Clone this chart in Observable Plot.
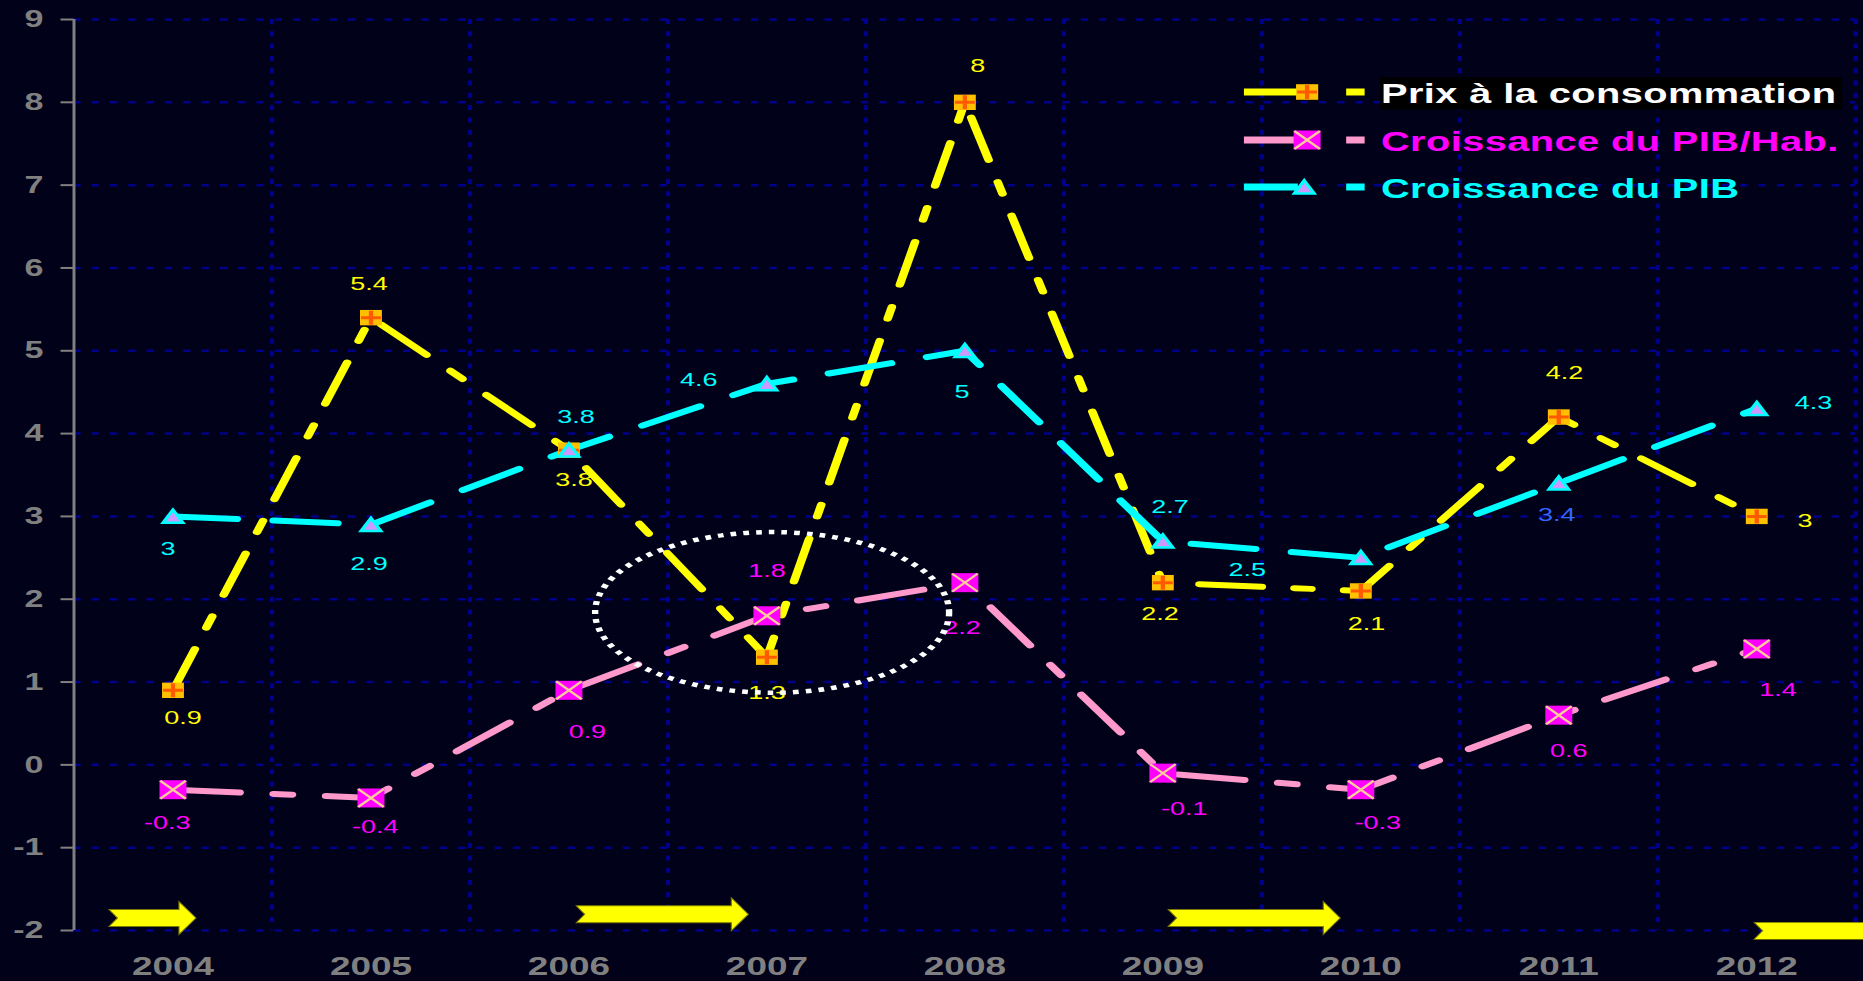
<!DOCTYPE html>
<html>
<head>
<meta charset="utf-8">
<script src="https://cdn.jsdelivr.net/npm/d3@7"></script>
<script src="https://cdn.jsdelivr.net/npm/@observablehq/plot@0.6"></script>
<style>
  html, body { margin: 0; padding: 0; background: #01011a; overflow: hidden; width: 1863px; height: 981px; }
  #chart svg { display: block; }
</style>
</head>
<body>
<div id="chart"></div>
<script>
// ---------- DATA ----------
const years = [2004, 2005, 2006, 2007, 2008, 2009, 2010, 2011, 2012];
const prixConso = [0.9, 5.4, 3.8, 1.3, 8, 2.2, 2.1, 4.2, 3];
const pibHab = [-0.3, -0.4, 0.9, 1.8, 2.2, -0.1, -0.3, 0.6, 1.4];
const pibGrowth = [3, 2.9, 3.8, 4.6, 5, 2.7, 2.5, 3.4, 4.3];
const seriesNames = ["Prix à la consommation", "Croissance du PIB/Hab.", "Croissance du PIB"];
const yTicks = [-2, -1, 0, 1, 2, 3, 4, 5, 6, 7, 8, 9];
const yearEdges = [2004.5, 2005.5, 2006.5, 2007.5, 2008.5, 2009.5, 2010.5, 2011.5, 2012.5];
const xDomain = [2003.5, 2012.5];
const yDomain = [-2, 9];

// annotations (in data units)
const arrows = [
  {from: 2003.68, to: 2004.12, y: -1.855},
  {from: 2006.04, to: 2006.91, y: -1.81},
  {from: 2009.03, to: 2009.90, y: -1.855},
  {from: 2011.99, to: 2012.95, y: -2.01}
];
const highlight = {year: 2007.03, value: 1.835, dYear: 0.894, dValue: 0.97};

// ---------- STYLE / PLACEMENT ----------
const STRETCH = 1.42;               // the picture is stretched horizontally
const FULL_W = 1863, FULL_H = 981;
const W = FULL_W / STRETCH;
const FONT = "'Liberation Sans', Arial, Helvetica, sans-serif";

const labelOffsets = {
  prix:  [[7, 28], [-1.4, -34], [3.5, 30], [0, 36], [9, -36], [-2, 31], [4, 33], [4, -44], [34, 5]],
  hab:   [[-4, 33], [3, 29], [13, 42], [0, -45], [-2, 45], [15, 36], [12, 33], [7, 36], [15, 41]],
  pib:   [[-3.5, 33], [-1.4, 39], [5, -33], [-48, -4], [-2, 41], [5, -34], [-80, 12], [-1.4, 32], [40, -6]]
};

// custom marker symbols
const rectSym = {draw(ctx, size) { const r = Math.sqrt(size / Math.PI); ctx.moveTo(-r, -r); ctx.lineTo(r, -r); ctx.lineTo(r, r); ctx.lineTo(-r, r); ctx.closePath(); }};
const plusSym = {draw(ctx, size) { const r = Math.sqrt(size / Math.PI); ctx.moveTo(-r, 0); ctx.lineTo(r, 0); ctx.moveTo(0, -r); ctx.lineTo(0, r); }};
const xSym = {draw(ctx, size) { const r = Math.sqrt(size / Math.PI); ctx.moveTo(-r, -r); ctx.lineTo(r, r); ctx.moveTo(r, -r); ctx.lineTo(-r, r); }};
const triSym = {draw(ctx, size) { const r = Math.sqrt(size / Math.PI); ctx.moveTo(0, -0.95 * r); ctx.lineTo(r, 0.9 * r); ctx.lineTo(-r, 0.9 * r); ctx.closePath(); }};

const toRows = (vals) => years.map((year, i) => ({year, value: vals[i]}));
const series = [
  {key: "prix", data: toRows(prixConso), line: "#FFFF00", dash: "44,23,12,23", label: "#FFFF00"},
  {key: "hab",  data: toRows(pibHab),    line: "#FF99CC", dash: "47,24,13,24", label: "#FF00FF"},
  {key: "pib",  data: toRows(pibGrowth), line: "#00FFFF", dash: "45,26",       label: "#00FFFF"}
];

// ---------- custom render marks ----------
function highlightMark(index, scales) {
  const cx = scales.x(highlight.year), cy = scales.y(highlight.value);
  const rx = scales.x(highlight.year + highlight.dYear) - cx;
  const ry = cy - scales.y(highlight.value + highlight.dValue);
  return d3.create("svg:ellipse")
    .attr("cx", cx).attr("cy", cy).attr("rx", rx).attr("ry", ry)
    .attr("fill", "none").attr("stroke", "#FFFFFF").attr("stroke-width", 4.5)
    .attr("stroke-dasharray", "4,5").node();
}

function arrowsMark(index, scales) {
  const g = d3.create("svg:g");
  const bh = 8.5, hh = 16.5, hl = 12, notch = 6;
  for (const a of arrows) {
    const x0 = scales.x(a.from), x1 = scales.x(a.to), yc = scales.y(a.y);
    const xh = x1 - hl;
    const d = `M${x0},${yc - bh}L${xh},${yc - bh}L${xh},${yc - hh}L${x1},${yc}L${xh},${yc + hh}L${xh},${yc + bh}L${x0},${yc + bh}L${x0 + notch},${yc}Z`;
    g.append("path").attr("d", d).attr("fill", "#FFFF00").attr("stroke", "#7a7a00").attr("stroke-width", 0.8);
  }
  return g.node();
}

function legendMark() {
  const g = d3.create("svg:g");
  const rowY = [92, 140, 187];
  const colors = ["#FFFF00", "#FF99CC", "#00FFFF"];
  const textColors = ["#FFFFFF", "#FF00FF", "#00FFFF"];
  const mx = 920.5;
  // black box behind first entry
  g.append("rect").attr("x", 971.8).attr("y", 77).attr("width", 325.5).attr("height", 32.5).attr("fill", "#000000");
  rowY.forEach((cy, i) => {
    g.append("line").attr("x1", 876).attr("x2", 914).attr("y1", cy).attr("y2", cy)
      .attr("stroke", colors[i]).attr("stroke-width", 7);
    g.append("line").attr("x1", 948).attr("x2", 961).attr("y1", cy).attr("y2", cy)
      .attr("stroke", colors[i]).attr("stroke-width", 7);
    if (i === 0) {
      g.append("rect").attr("x", mx - 7.8).attr("y", cy - 7.8).attr("width", 15.6).attr("height", 15.6).attr("fill", "#FFC000");
      g.append("path").attr("d", `M${mx - 7},${cy}H${mx + 7}M${mx},${cy - 7}V${cy + 7}`).attr("stroke", "#FF5A00").attr("stroke-width", 3);
    } else if (i === 1) {
      g.append("rect").attr("x", mx - 9.5).attr("y", cy - 9.5).attr("width", 19).attr("height", 19).attr("fill", "#FF00FF");
      g.append("path").attr("d", `M${mx - 9},${cy - 9}L${mx + 9},${cy + 9}M${mx + 9},${cy - 9}L${mx - 9},${cy + 9}`).attr("stroke", "#FFCC99").attr("stroke-width", 2);
    } else {
      g.append("path").attr("d", `M${mx - 2},${cy - 6.5}L${mx + 5},${cy + 6.5}L${mx - 9},${cy + 6.5}Z`)
        .attr("fill", "#CC99FF").attr("stroke", "#00FFFF").attr("stroke-width", 2.5);
    }
    g.append("text").attr("x", 972.5).attr("y", cy + 11)
      .attr("text-anchor", "start")
      .attr("fill", textColors[i]).attr("font-size", 28).attr("font-weight", "bold")
      .attr("font-family", FONT).attr("letter-spacing", 0.3).text(seriesNames[i]);
  });
  return g.node();
}

// ---------- label marks ----------
const labelMarks = [];
series.forEach((s) => {
  s.data.forEach((d, i) => {
    const [dx, dy] = labelOffsets[s.key][i];
    const fill = (s.key === "pib" && d.year === 2011) ? "#3366FF" : s.label;
    labelMarks.push(Plot.text([d], {x: "year", y: "value", text: (r) => String(r.value), dx, dy, fill, fontSize: 19, fontFamily: FONT}));
  });
});

// ---------- plot ----------
const svg = Plot.plot({
  width: W,
  height: FULL_H,
  marginLeft: 51.6,
  marginRight: 5.6,
  marginTop: 19,
  marginBottom: 51,
  style: {background: "#01011a", fontFamily: FONT, overflow: "hidden"},
  x: {domain: xDomain},
  y: {domain: yDomain},
  marks: [
    Plot.ruleY(yTicks, {stroke: "#00008a", strokeWidth: 2.5, strokeDasharray: "5.1,7.8"}),
    Plot.ruleX(yearEdges, {stroke: "#00008a", strokeWidth: 3, strokeDasharray: "5,7.3"}),
    Plot.ruleX([xDomain[0]], {stroke: "#808080", strokeWidth: 2.1}),
    Plot.axisY(yTicks, {tickSize: 9, tickPadding: 12.5, fontSize: 24, fontWeight: "bold", color: "#808080", strokeWidth: 2, tickFormat: (d) => String(d), label: null}),
    Plot.axisX(years, {tickSize: 0, tickPadding: 26, fontSize: 26, fontWeight: "bold", color: "#808080", tickFormat: (d) => String(d), label: null}),
    ...series.map((s) => Plot.line(s.data, {x: "year", y: "value", stroke: s.line, strokeWidth: 6, strokeDasharray: s.dash})),
    Plot.dot(series[0].data, {x: "year", y: "value", symbol: rectSym, r: 7.7, fill: "#FFC000"}),
    Plot.dot(series[0].data, {x: "year", y: "value", symbol: plusSym, r: 7, fill: "none", stroke: "#FF5A00", strokeWidth: 3}),
    Plot.dot(series[1].data, {x: "year", y: "value", symbol: rectSym, r: 9.5, fill: "#FF00FF"}),
    Plot.dot(series[1].data, {x: "year", y: "value", symbol: xSym, r: 9, fill: "none", stroke: "#FFCC99", strokeWidth: 2}),
    Plot.dot(series[2].data, {x: "year", y: "value", symbol: triSym, r: 7, fill: "#CC99FF", stroke: "#00FFFF", strokeWidth: 2.5}),
    ...labelMarks,
    highlightMark,
    arrowsMark,
    legendMark
  ]
});

svg.setAttribute("width", FULL_W);
svg.setAttribute("height", FULL_H);
svg.setAttribute("preserveAspectRatio", "none");
svg.style.width = FULL_W + "px";
svg.style.height = FULL_H + "px";
svg.style.maxWidth = "none";
document.getElementById("chart").appendChild(svg);
</script>
</body>
</html>
